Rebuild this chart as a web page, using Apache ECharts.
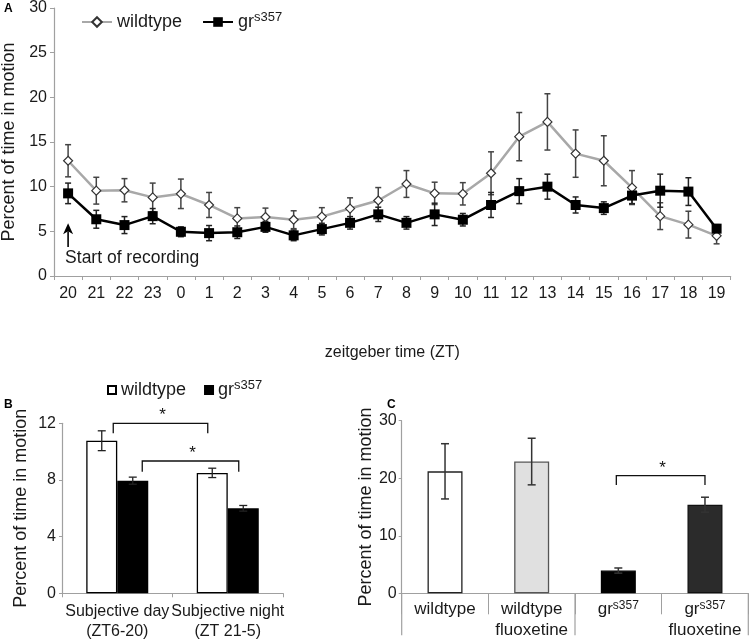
<!DOCTYPE html>
<html><head><meta charset="utf-8">
<script src="https://cdn.jsdelivr.net/npm/echarts@6/dist/echarts.min.js"></script>
<style>html,body{margin:0;padding:0;background:#fff}#c{width:751px;height:642px}</style>
</head><body><div id="c"></div>
<script>
// ---- Panel A data ----
const hoursA = ['20','21','22','23','0','1','2','3','4','5','6','7','8','9','10','11','12','13','14','15','16','17','18','19'];
const wildtypeA = [12.9, 9.55, 9.6, 8.8, 9.2, 7.95, 6.45, 6.6, 6.3, 6.65, 7.55, 8.45, 10.3, 9.25, 9.2, 11.5, 15.6, 17.25, 13.7, 12.9, 9.9, 6.7, 5.75, 4.5];
const wildtypeErrA = [1.8, 1.5, 1.3, 1.6, 1.65, 1.4, 1.2, 1.0, 1.0, 1.0, 1.2, 1.45, 1.5, 1.25, 1.25, 2.4, 2.7, 3.15, 2.65, 2.8, 1.9, 1.5, 1.5, 0.9];
const grA = [9.25, 6.35, 5.7, 6.7, 4.95, 4.8, 4.9, 5.5, 4.55, 5.25, 5.95, 6.9, 5.95, 6.9, 6.3, 7.95, 9.5, 10.0, 7.95, 7.6, 9.0, 9.55, 9.45, 5.3];
const grErrA = [1.15, 1.0, 0.95, 0.85, 0.55, 0.85, 0.7, 0.6, 0.6, 0.65, 0.7, 0.8, 0.7, 1.25, 0.7, 1.4, 1.4, 1.4, 0.9, 0.7, 0.9, 1.85, 1.55, 0.45];
const yTicksA = [0, 5, 10, 15, 20, 25, 30];
const annotA = [[0, 3.25, 5.9]];  // category index, arrow tail value, arrow head value

// ---- Panel B data ----
const catsB = ['Subjective day\n(ZT6-20)', 'Subjective night\n(ZT 21-5)'];
const wildtypeB = [10.77, 8.5];
const wildtypeErrB = [0.7, 0.33];
const grB = [7.95, 6.0];
const grErrB = [0.25, 0.2];
const yTicksB = [0, 4, 8, 12];
const sigB = [[0, 1, 12.0, 11.3], [0, 1, 9.34, 8.58]];

// ---- Panel C data ----
const catsC = ['wildtype', 'wildtype\nfluoxetine', 'gr^s357', 'gr^s357\nfluoxetine'];
const valuesC = [21.2, 22.9, 3.95, 15.4];
const errC = [4.8, 4.05, 0.45, 1.3];
const yTicksC = [0, 10, 20, 30];
const sigC = [[2, 3, 20.45, 18.83]];
const groupEdgesC = [0, 2, 4];

const AX = '#a0a0a0', TXT = '#1a1a1a', FONT = 'Liberation Sans, Arial, sans-serif';
const chart = echarts.init(document.getElementById('c'), null, {renderer: 'canvas'});

function supFmt(s) {
  return s.split('\n').map(line => {
    const m = line.match(/^(.*)\^(.*)$/);
    if (m) return '{n|' + m[1] + '}{s|' + m[2] + '}';
    return '{n|' + line + '}';
  }).join('\n');
}
function richFor(size, lh) {
  return {
    n: {fontSize: size, lineHeight: lh, fontFamily: FONT, color: TXT},
    s: {fontSize: Math.round(size * 0.72), lineHeight: Math.round(size * 0.72), verticalAlign: 'top', fontFamily: FONT, color: TXT}
  };
}

function errRender(offset, cap, color, lw) {
  return function (params, api) {
    const x = api.value(0), lo = api.value(1), hi = api.value(2);
    const p1 = api.coord([x, hi]), p2 = api.coord([x, lo]);
    const cx = p1[0] + offset;
    const st = {stroke: color, lineWidth: lw};
    return {type: 'group', children: [
      {type: 'line', shape: {x1: cx, y1: p1[1], x2: cx, y2: p2[1]}, style: st},
      {type: 'line', shape: {x1: cx - cap, y1: p1[1], x2: cx + cap, y2: p1[1]}, style: st},
      {type: 'line', shape: {x1: cx - cap, y1: p2[1], x2: cx + cap, y2: p2[1]}, style: st}
    ]};
  };
}
function errData(vals, errs) { return vals.map((v, i) => [i, v - errs[i], v + errs[i]]); }

function bracketRender(offsets) {
  return function (params, api) {
    const o = offsets[params.dataIndex];
    const a = api.coord([api.value(0), api.value(2)]);
    const b = api.coord([api.value(1), api.value(2)]);
    const d = api.coord([api.value(0), api.value(3)]);
    const x1 = a[0] + o[0], x2 = b[0] + o[1], yT = a[1], yD = d[1];
    const st = {stroke: '#111', lineWidth: 1.3};
    return {type: 'group', children: [
      {type: 'polyline', shape: {points: [[x1, yD], [x1, yT], [x2, yT], [x2, yD]]}, style: Object.assign({fill: null}, st)},
      {type: 'text', style: {x: (x1 + x2) / 2 + 2, y: yT + 1, text: '*', fontSize: 17, fontFamily: FONT, fill: '#111', align: 'center', verticalAlign: 'bottom'}}
    ]};
  };
}

const gridBase = {outerBoundsMode: 'none', containLabel: false};
const option = {
  animation: false,
  backgroundColor: '#fff',
  textStyle: {fontFamily: FONT},
  grid: [
    Object.assign({left: 54, top: 8, width: 676.7, height: 268}, gridBase),
    Object.assign({left: 62, top: 423.3, width: 221, height: 170}, gridBase),
    Object.assign({left: 401.7, top: 420.7, width: 346.6, height: 172.6}, gridBase)
  ],
  legend: [
    {left: 76, top: 6, data: ['wildtype', 'gr'], itemWidth: 30, itemHeight: 12, itemGap: 20, selectedMode: false,
      textStyle: {fontSize: 18, color: TXT, fontFamily: FONT, rich: richFor(18, 22)},
      formatter: n => n === 'gr' ? '{n|gr}{s|s357}' : '{n|wildtype}'},
    {left: 102, top: 374, data: ['wildtypeB', 'grB'], icon: 'rect', itemWidth: 8, itemHeight: 8, itemGap: 18, selectedMode: false,
      textStyle: {fontSize: 18, color: TXT, fontFamily: FONT, rich: richFor(18, 22)},
      formatter: n => n === 'grB' ? '{n|gr}{s|s357}' : '{n|wildtype}'}
  ],
  xAxis: [
    {type: 'category', gridIndex: 0, data: hoursA, boundaryGap: true,
      axisLine: {lineStyle: {color: AX, width: 1.2}}, axisTick: {show: true, length: 4, lineStyle: {color: AX}},
      axisLabel: {fontSize: 16, color: TXT, margin: 10, interval: 0},
      name: 'zeitgeber time (ZT)', nameLocation: 'middle', nameGap: 69, nameTextStyle: {fontSize: 16, color: TXT}},
    {type: 'category', gridIndex: 1, data: catsB, boundaryGap: true,
      axisLine: {lineStyle: {color: AX, width: 1.2}}, axisTick: {show: true, length: 4, lineStyle: {color: AX}},
      axisLabel: {fontSize: 16, color: TXT, margin: 8, interval: 0, lineHeight: 20}},
    {type: 'category', gridIndex: 2, data: catsC, boundaryGap: true,
      axisLine: {lineStyle: {color: AX, width: 1.2}}, axisTick: {show: true, length: 21, lineStyle: {color: AX}},
      axisLabel: {fontSize: 17, color: TXT, margin: 6, interval: 0, formatter: v => supFmt(v), rich: richFor(17, 21)}}
  ],
  yAxis: [
    {type: 'value', gridIndex: 0, min: yTicksA[0], max: yTicksA[yTicksA.length - 1], interval: 5,
      axisLine: {show: true, lineStyle: {color: AX, width: 1.2}}, axisTick: {show: true, length: 4, lineStyle: {color: AX}},
      splitLine: {show: false}, axisLabel: {fontSize: 16, color: TXT, margin: 7},
      name: 'Percent of time in motion', nameLocation: 'middle', nameGap: 32, nameTextStyle: {fontSize: 18, color: TXT}},
    {type: 'value', gridIndex: 1, min: yTicksB[0], max: yTicksB[yTicksB.length - 1], interval: 4,
      axisLine: {show: true, lineStyle: {color: AX, width: 1.2}}, axisTick: {show: true, length: 3, lineStyle: {color: AX}},
      splitLine: {show: false}, axisLabel: {fontSize: 16, color: TXT, margin: 6},
      name: 'Percent of time in motion', nameLocation: 'middle', nameGap: 32, nameTextStyle: {fontSize: 18, color: TXT}},
    {type: 'value', gridIndex: 2, min: yTicksC[0], max: yTicksC[yTicksC.length - 1], interval: 10,
      axisLine: {show: true, lineStyle: {color: AX, width: 1.2}}, axisTick: {show: true, length: 3, lineStyle: {color: AX}},
      splitLine: {show: false}, axisLabel: {fontSize: 16, color: TXT, margin: 5},
      name: 'Percent of time in motion', nameLocation: 'middle', nameGap: 27, nameTextStyle: {fontSize: 18, color: TXT}}
  ],
  series: [
    {type: 'custom', xAxisIndex: 0, yAxisIndex: 0, z: 1, data: errData(wildtypeA, wildtypeErrA), encode: {x: 0, y: [1, 2]},
      renderItem: errRender(0, 3, '#444', 1.5), silent: true},
    {type: 'custom', xAxisIndex: 0, yAxisIndex: 0, z: 1, data: errData(grA, grErrA), encode: {x: 0, y: [1, 2]},
      renderItem: errRender(0, 3, '#222', 1.5), silent: true},
    {name: 'wildtype', type: 'line', xAxisIndex: 0, yAxisIndex: 0, z: 3, data: wildtypeA,
      lineStyle: {color: '#a8a8a8', width: 2.5}, itemStyle: {color: '#fff', borderColor: '#333', borderWidth: 1.2},
      symbol: 'diamond', symbolSize: 9, showAllSymbol: true},
    {name: 'gr', type: 'line', xAxisIndex: 0, yAxisIndex: 0, z: 4, data: grA,
      lineStyle: {color: '#000', width: 2.5}, itemStyle: {color: '#000', borderColor: '#000', borderWidth: 0},
      symbol: 'rect', symbolSize: 10, showAllSymbol: true},
    {type: 'custom', xAxisIndex: 0, yAxisIndex: 0, z: 5, data: annotA, encode: {x: 0, y: [1, 2]}, silent: true,
      renderItem: function (params, api) {
        const t = api.coord([api.value(0), api.value(1)]), h = api.coord([api.value(0), api.value(2)]);
        const x = t[0];
        return {type: 'group', children: [
          {type: 'line', shape: {x1: x, y1: t[1], x2: x, y2: h[1] + 8}, style: {stroke: '#000', lineWidth: 1.6}},
          {type: 'polygon', shape: {points: [[x, h[1]], [x - 5, h[1] + 11], [x, h[1] + 8], [x + 5, h[1] + 11]]}, style: {fill: '#000'}},
          {type: 'text', style: {x: x - 3, y: t[1] + 11, text: 'Start of recording', fontSize: 17.5, fontFamily: FONT, fill: TXT, verticalAlign: 'middle'}}
        ]};
      }},
    {name: 'wildtypeB', type: 'bar', xAxisIndex: 1, yAxisIndex: 1, data: wildtypeB, barWidth: 31, barGap: '0%',
      itemStyle: {color: '#fff', borderColor: '#000', borderWidth: 1.3}},
    {name: 'grB', type: 'bar', xAxisIndex: 1, yAxisIndex: 1, data: grB, barWidth: 31, barGap: '0%',
      itemStyle: {color: '#000', borderColor: '#000', borderWidth: 1.3}},
    {type: 'custom', xAxisIndex: 1, yAxisIndex: 1, z: 5, data: errData(wildtypeB, wildtypeErrB), encode: {x: 0, y: [1, 2]},
      renderItem: errRender(-15.5, 4, '#222', 1.3), silent: true},
    {type: 'custom', xAxisIndex: 1, yAxisIndex: 1, z: 5, data: errData(grB, grErrB), encode: {x: 0, y: [1, 2]},
      renderItem: errRender(15.5, 4, '#222', 1.3), silent: true},
    {type: 'custom', xAxisIndex: 1, yAxisIndex: 1, z: 5, data: sigB, encode: {x: [0, 1], y: [2, 3]}, silent: true,
      renderItem: bracketRender([[-4, -20], [25, 11]])},
    {type: 'bar', xAxisIndex: 2, yAxisIndex: 2, barWidth: 35,
      data: valuesC.map((v, i) => ({value: v, itemStyle: [
        {color: '#fff', borderColor: '#222', borderWidth: 1.3},
        {color: '#e0e0e0', borderColor: '#555', borderWidth: 1.3},
        {color: '#000', borderColor: '#000', borderWidth: 1.3},
        {color: '#2b2b2b', borderColor: '#111', borderWidth: 1.3}][i]}))},
    {type: 'custom', xAxisIndex: 2, yAxisIndex: 2, z: 5, data: errData(valuesC, errC), encode: {x: 0, y: [1, 2]},
      renderItem: errRender(0, 4, '#333', 1.5), silent: true},
    {type: 'custom', xAxisIndex: 2, yAxisIndex: 2, z: 5, data: sigC, encode: {x: [0, 1], y: [2, 3]}, silent: true,
      renderItem: bracketRender([[-2, 0]])},
    {type: 'custom', xAxisIndex: 2, yAxisIndex: 2, z: 5, data: groupEdgesC.map(b => [b]), silent: true, clip: false,
      renderItem: function (params, api) {
        const b = api.value(0), n = catsC.length;
        const w = api.size([1, 0])[0];
        const c = api.coord([Math.min(b, n - 1), 0]);
        const x = b < n ? c[0] - w / 2 : c[0] + w / 2;
        return {type: 'line', shape: {x1: x, y1: c[1], x2: x, y2: c[1] + 42}, style: {stroke: AX, lineWidth: 1.2}};
      }}
  ],
  graphic: [
    {type: 'text', left: 4, top: 3, style: {text: 'A', fontSize: 12, fontWeight: 'bold', fontFamily: FONT, fill: '#000'}},
    {type: 'text', left: 4, top: 399, style: {text: 'B', fontSize: 12, fontWeight: 'bold', fontFamily: FONT, fill: '#000'}},
    {type: 'text', left: 387, top: 399, style: {text: 'C', fontSize: 12, fontWeight: 'bold', fontFamily: FONT, fill: '#000'}}
  ]
};
chart.setOption(option);
</script></body></html>
